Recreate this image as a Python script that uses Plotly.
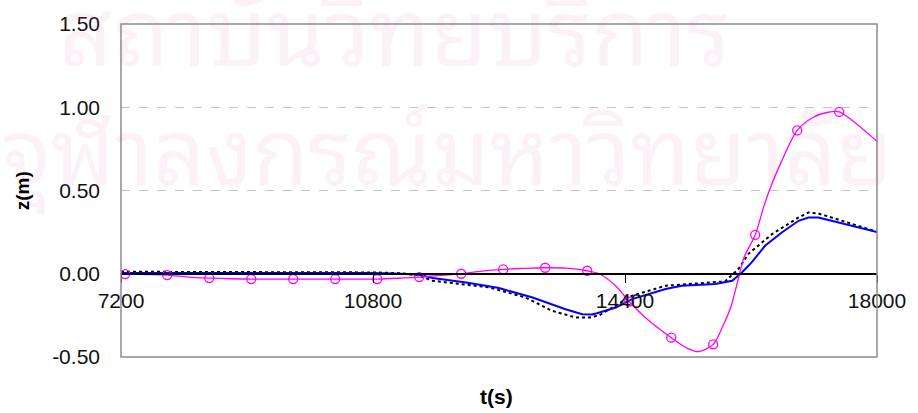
import plotly.graph_objects as go

# Time axis (s) and surface elevation z (m)
t_black = [7200, 8400, 9600, 10800, 11200, 11450, 11650, 12460, 12980, 13360, 13700,
           13890, 14030, 14500, 14980, 15450, 15830, 16020, 16160, 16500, 16880, 17020,
           17160, 17350, 17640, 18000]
z_black = [0.012, 0.012, 0.010, 0.008, 0.003, -0.010, -0.042, -0.082, -0.143, -0.223, -0.263,
           -0.263, -0.250, -0.132, -0.072, -0.058, -0.046, 0.028, 0.118, 0.238, 0.338, 0.368,
           0.362, 0.338, 0.298, 0.252]

t_blue = [7200, 8400, 9600, 10800, 11200, 11460, 11650, 12130, 12600, 13080, 13320, 13550,
          13790, 13930, 14000, 14270, 14500, 14740, 14980, 15210, 15450, 15690, 15930, 16070,
          16210, 16400, 16640, 16880, 17020, 17160, 17350, 17640, 18000]
z_blue = [0.005, 0.006, 0.006, 0.004, 0.000, -0.006, -0.026, -0.052, -0.086, -0.143, -0.179, -0.213,
          -0.243, -0.245, -0.237, -0.203, -0.152, -0.122, -0.092, -0.072, -0.066, -0.062, -0.042, 0.008,
          0.068, 0.168, 0.248, 0.318, 0.338, 0.338, 0.318, 0.288, 0.250]

t_mag = [7200, 7260, 7560, 7860, 8160, 8460, 8760, 9060, 9660, 10260, 10860, 11160, 11460,
         11760, 12060, 12360, 12660, 12960, 13260, 13560, 13860, 14030, 14265, 14460, 14690,
         15060, 15300, 15450, 15660, 15810, 15910, 16000, 16100, 16260, 16380, 16480, 16620,
         16860, 17090, 17300, 17460, 17710, 18000]
z_mag = [0.000, -0.002, -0.005, -0.008, -0.020, -0.026, -0.030, -0.032, -0.032, -0.032, -0.032, -0.027, -0.020,
         -0.010, 0.000, 0.016, 0.026, 0.032, 0.036, 0.034, 0.018, 0.000, -0.072, -0.167, -0.263,
         -0.384, -0.450, -0.468, -0.424, -0.303, -0.203, -0.062, 0.098, 0.233, 0.400, 0.520, 0.660,
         0.861, 0.940, 0.970, 0.972, 0.900, 0.795]

# Circle symbols every 600 s along the magenta curve
t_mark = [7260 + 600 * k for k in range(18)]

x_ticks = [7200, 10800, 14400, 18000]
y_ticks = [-0.5, 0.0, 0.5, 1.0, 1.5]
y_labels = ["-0.50", "0.00", "0.50", "1.00", "1.50"]

watermark = ["สถาบันวิทยบริการ", "จุฬาลงกรณ์มหาวิทยาลัย"]

FONT = "Liberation Sans, Arial, sans-serif"
THAI = ("Noto Sans Thai Looped, Loma, Garuda, Norasi, Kinnari, Waree, Sawasdee, "
        "Noto Serif Thai, Noto Sans Thai, sans-serif")

lookup = dict(zip(t_mag, z_mag))
z_mark = [lookup[t] for t in t_mark]

fig = go.Figure()
fig.add_trace(go.Scatter(x=t_black, y=z_black, mode="lines",
                         line=dict(color="black", width=2, dash="dot")))
fig.add_trace(go.Scatter(x=t_blue, y=z_blue, mode="lines",
                         line=dict(color="#0000ff", width=2)))
fig.add_trace(go.Scatter(x=t_mag, y=z_mag, mode="lines",
                         line=dict(color="#ff00ff", width=1.3, shape="spline", smoothing=0.8)))
fig.add_trace(go.Scatter(x=t_mark, y=z_mark, mode="markers",
                         marker=dict(symbol="circle-open", size=9, color="#ff00ff",
                                     line=dict(width=1.3, color="#ff00ff"))))

# pale watermark lines behind the plot
for txt, x, y, size in zip(watermark, [0.363, 0.431], [1.0, 0.64], [93, 91]):
    fig.add_annotation(text=txt, xref="paper", yref="paper", x=x, y=y,
                       showarrow=False, xanchor="center", yanchor="middle",
                       font=dict(size=size, color="rgba(215,100,170,0.09)", family=THAI))

fig.add_annotation(text="<b>z(m)</b>", xref="paper", yref="paper", x=-0.13, y=0.5,
                   xanchor="center", yanchor="middle", textangle=-90, showarrow=False,
                   font=dict(size=19, color="black", family=FONT))
fig.add_annotation(text="<b>t(s)</b>", xref="paper", yref="paper", x=0.497, y=-0.118,
                   xanchor="center", yanchor="middle", showarrow=False,
                   font=dict(size=21, color="black", family=FONT))

fig.add_shape(type="rect", xref="paper", yref="paper", x0=0, x1=1, y0=0, y1=1,
              line=dict(color="#8c8c8c", width=1.5), layer="above")

fig.update_layout(
    width=918, height=413,
    margin=dict(l=121, r=39, t=23, b=56),
    paper_bgcolor="white", plot_bgcolor="rgba(0,0,0,0)",
    showlegend=False,
    xaxis=dict(range=[7200, 18000], tickvals=x_ticks, ticktext=[str(v) for v in x_ticks],
               anchor="free", position=0.25, showline=True, linecolor="black", linewidth=1.5,
               ticks="outside", ticklen=8, tickwidth=1.2, tickcolor="black",
               showgrid=False, zeroline=False,
               tickfont=dict(size=21, color="#111111", family=FONT)),
    yaxis=dict(range=[-0.5, 1.5], tickvals=y_ticks, ticktext=y_labels,
               showline=False, zeroline=False, showgrid=True, gridcolor="#c4c4c4",
               griddash="dash", gridwidth=1, ticks="", ticklabelstandoff=20,
               tickfont=dict(size=21, color="#111111", family=FONT)),
)

fig.write_html("out.html")
